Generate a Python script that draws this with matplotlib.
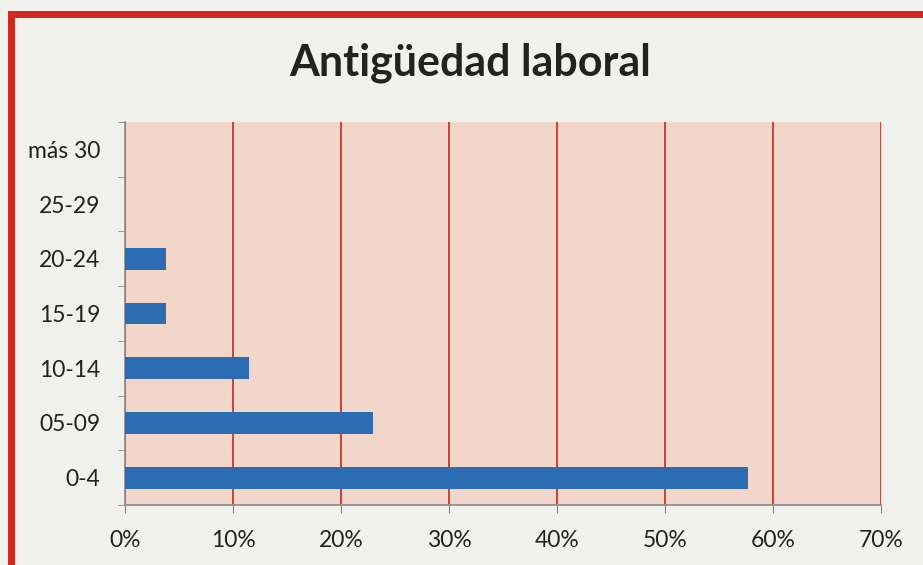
import numpy as np
import matplotlib
matplotlib.use("Agg")
import matplotlib.pyplot as plt
from matplotlib.patches import Rectangle

# Datos
categorias = ["0-4", "05-09", "10-14", "15-19", "20-24", "25-29", "más 30"]
valores = [57.7, 23.0, 11.5, 3.8, 3.8, 0.0, 0.0]
ticks_x = [0, 10, 20, 30, 40, 50, 60, 70]
etiquetas_x = ["0%", "10%", "20%", "30%", "40%", "50%", "60%", "70%"]

plt.rcParams['font.family'] = ['Lato', 'DejaVu Sans']

fig = plt.figure(figsize=(9.23, 5.65), dpi=100, facecolor='#f1f2ee')
ax = fig.add_axes([125/923, 1 - 505/565, (881-125)/923, (505-122)/565])
ax.set_facecolor('#f3d6ca')

y = np.arange(len(categorias))
ax.barh(y, valores, height=0.4, color='#2b6cb2', zorder=3)

ax.set_xlim(0, 70)
ax.set_ylim(-0.5, len(categorias) - 0.5)
ax.set_xticks(ticks_x)
ax.set_xticklabels(etiquetas_x, fontsize=16.5, color='#222222')
ax.set_yticks(y)
ax.set_yticklabels(categorias, fontsize=16.5, color='#222222')
ax.set_yticks(np.arange(-0.5, len(categorias)), minor=True)

ax.grid(axis='x', color='#c9362a', linewidth=1.3, zorder=1)
ax.tick_params(axis='y', which='major', length=0, pad=18)
ax.tick_params(axis='y', which='minor', length=5, color='#888888', direction='out')
ax.tick_params(axis='x', length=6, color='#888888', pad=12)

for s in ['top', 'right']:
    ax.spines[s].set_visible(False)
for s in ['left', 'bottom']:
    ax.spines[s].set_color('#888888')
    ax.spines[s].set_linewidth(1.2)

fig.text(470/923, 1 - 63/565, "Antigüedad laboral", ha='center', va='center',
         fontsize=31, fontweight='bold', color='#222222')

# marco rojo
fig.patches.append(Rectangle((11/923, -0.02), 1.0, 1 - 14/565 + 0.02,
                             transform=fig.transFigure, fill=False,
                             edgecolor='#d2281c', linewidth=5))

fig.savefig("out.png", dpi=100, facecolor=fig.get_facecolor())
